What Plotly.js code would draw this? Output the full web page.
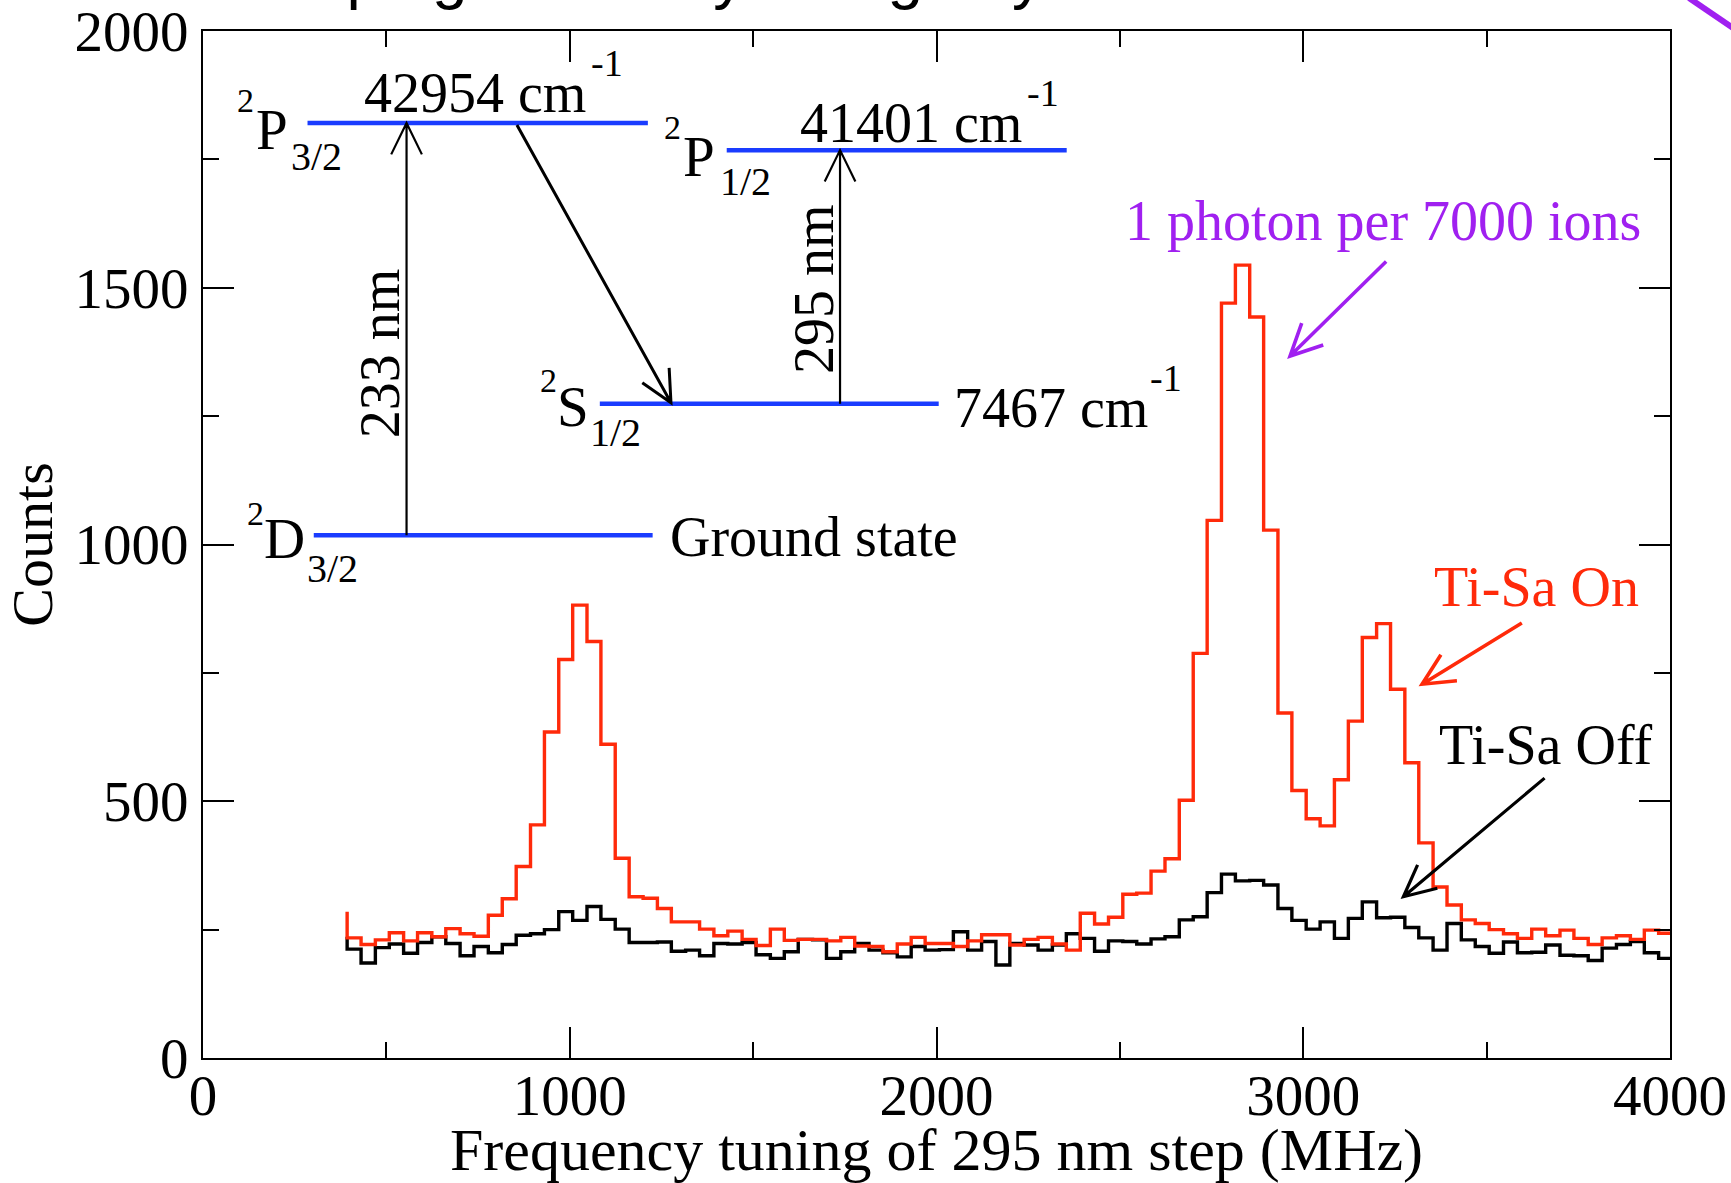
<!DOCTYPE html>
<html>
<head>
<meta charset="utf-8">
<script src="https://cdn.plot.ly/plotly-3.0.1.min.js"></script>
<style>
  html, body { margin: 0; padding: 0; background: #ffffff; }
  #chart { width: 1731px; height: 1183px; }
</style>
</head>
<body>
<div id="chart"></div>
<script>
// Step edges of the 295 nm frequency scan (MHz)
const frequency = [
  393, 431, 470, 508, 547, 585, 624, 662, 701, 739,
  778, 816, 854, 893, 931, 970, 1008, 1047, 1085, 1124,
  1162, 1200, 1239, 1277, 1316, 1354, 1393, 1431, 1470, 1508,
  1547, 1585, 1623, 1662, 1700, 1739, 1777, 1816, 1854, 1893,
  1931, 1969, 2008, 2046, 2085, 2123, 2162, 2200, 2239, 2277,
  2316, 2354, 2392, 2431, 2469, 2508, 2546, 2585, 2623, 2662,
  2700, 2738, 2777, 2815, 2854, 2892, 2931, 2969, 3008, 3046,
  3085, 3123, 3161, 3200, 3238, 3277, 3315, 3354, 3392, 3431,
  3469, 3507, 3546, 3584, 3623, 3661, 3700, 3738, 3777, 3815,
  3854, 3892, 3930, 3969, 4007
];

// Photon counts with the Ti-Sa laser on
const countsOn = [
  285, 234, 221, 230, 244, 228, 244, 236, 252, 242,
  237, 278, 310, 373, 454, 635, 776, 882, 811, 611,
  389, 314, 311, 291, 265, 265, 251, 238, 247, 231,
  219, 251, 229, 231, 231, 228, 235, 218, 217, 207,
  222, 235, 223, 223, 217, 228, 240, 240, 220, 231,
  235, 222, 210, 282, 261, 274, 319, 321, 364, 388,
  502, 788, 1047, 1470, 1544, 1443, 1028, 672, 521, 466,
  452, 542, 656, 819, 846, 718, 575, 419, 333, 298,
  269, 262, 250, 242, 233, 251, 238, 249, 233, 221,
  234, 238, 231, 249, 243
];

// Photon counts with the Ti-Sa laser off
const countsOff = [
  236, 212, 185, 215, 222, 204, 225, 236, 223, 199,
  217, 205, 221, 239, 242, 250, 285, 268, 295, 270,
  251, 225, 225, 226, 208, 210, 199, 223, 222, 225,
  201, 194, 207, 231, 230, 194, 207, 223, 210, 205,
  197, 217, 210, 211, 246, 210, 227, 181, 223, 220,
  210, 220, 242, 233, 208, 228, 227, 222, 232, 236,
  269, 275, 322, 358, 345, 346, 337, 291, 268, 251,
  265, 233, 272, 304, 273, 274, 254, 234, 210, 262,
  230, 217, 204, 226, 205, 206, 220, 200, 199, 190,
  214, 221, 227, 205, 194
];

const xTickVals = [0, 1000, 2000, 3000, 4000];
const yTickVals = [0, 500, 1000, 1500, 2000];

// ---- page geometry ----
const W = 1731, H = 1183;
const M = { l: 203, r: 61, t: 31, b: 125 };
const X_RANGE = [0, 4000], Y_RANGE = [0, 2000.01];
const plotW = W - M.l - M.r, plotH = H - M.t - M.b;
const pxPerX = plotW / (X_RANGE[1] - X_RANGE[0]);
const pxPerY = plotH / (Y_RANGE[1] - Y_RANGE[0]);

const SERIF = 'Liberation Serif, Times New Roman, serif';
const SANS = 'Liberation Sans, Arial, sans-serif';
const RED = '#ff2a0a';
const BLUE = '#1a3cff';
const PURPLE = '#a020f0';

// Straight arrow with an open (two-stroke) head, expressed in data units
function arrowPath(x0, y0, x1, y1, headLen, halfAngleDeg) {
  const dx = (x1 - x0) * pxPerX, dy = (y1 - y0) * pxPerY;
  const L = Math.hypot(dx, dy);
  const bx = -dx / L, by = -dy / L;
  const a = halfAngleDeg * Math.PI / 180;
  const c = Math.cos(a), s = Math.sin(a);
  const r1x = bx * c - by * s, r1y = bx * s + by * c;
  const r2x = bx * c + by * s, r2y = -bx * s + by * c;
  const ax = x1 + r1x * headLen / pxPerX, ay = y1 + r1y * headLen / pxPerY;
  const cx = x1 + r2x * headLen / pxPerX, cy = y1 + r2y * headLen / pxPerY;
  return `M ${x0},${y0} L ${x1},${y1} M ${ax},${ay} L ${x1},${y1} L ${cx},${cy}`;
}

function levelLine(x0, x1, y) {
  return { type: 'line', xref: 'x', yref: 'y', x0: x0, x1: x1, y0: y, y1: y,
           line: { color: BLUE, width: 4.5 } };
}

function arrowShape(x0, y0, x1, y1, color, width) {
  return { type: 'path', xref: 'x', yref: 'y',
           path: arrowPath(x0, y0, x1, y1, 35, 26),
           line: { color: color, width: width } };
}

function label(text, x, y, size, opts) {
  return Object.assign({
    text: text, x: x, y: y, xref: 'x', yref: 'y',
    xanchor: 'left', yanchor: 'middle', showarrow: false,
    font: { family: SERIF, size: size, color: '#000000' }
  }, opts || {});
}

// page pixel -> paper fraction
const paperX = px => (px - M.l) / plotW;
const paperY = py => (H - M.b - py) / plotH;

// Level scheme inset
const shapes = [
  levelLine(285, 1213, 1821),   // 2P3/2
  levelLine(1428, 2355, 1768),  // 2P1/2
  levelLine(1082, 2006, 1274),  // 2S1/2
  levelLine(302, 1226, 1018),   // 2D3/2
  arrowShape(555, 1018, 555, 1821, '#000000', 2.2),
  arrowShape(856, 1817, 1276, 1276, '#000000', 3),
  arrowShape(1737, 1274, 1737, 1768, '#000000', 2.2),
  arrowShape(3226, 1551, 2964, 1367, PURPLE, 3.6),
  arrowShape(3596, 847, 3324, 728, RED, 3.6),
  arrowShape(3658, 545, 3273, 314, '#000000', 3.2),
  { type: 'line', xref: 'paper', yref: 'paper',
    x0: paperX(1689), y0: paperY(-2), x1: paperX(1733), y1: paperY(28),
    line: { color: PURPLE, width: 6 } }
];

const annotations = [
  // heading running off the top edge of the page
  { text: 'Pumping of doubly charged yttrium', xref: 'paper', yref: 'paper',
    x: paperX(213), y: paperY(13), xanchor: 'left', yanchor: 'bottom',
    showarrow: false, font: { family: SANS, size: 64, color: '#000000' } },

  label('42954 cm', 434, 1879, 56),
  label('-1', 1052, 1938, 38),
  label('2', 88, 1865, 34),
  label('P', 139, 1809, 57),
  label('3/2', 235, 1755, 40),

  label('41401 cm', 1623, 1820, 56),
  label('-1', 2240, 1880, 38),
  label('2', 1252, 1813, 34),
  label('P', 1304, 1755, 57),
  label('1/2', 1403, 1706, 40),

  label('2', 913, 1319, 34),
  label('S', 961, 1269, 57),
  label('1/2', 1051, 1218, 40),
  label('7467 cm', 2041, 1265, 56),
  label('-1', 2578, 1325, 38),

  label('2', 115, 1061, 34),
  label('D', 160, 1011, 57),
  label('3/2', 277, 953, 40),
  label('Ground state', 1268, 1015, 56),

  label('233 nm', 485, 1372, 56, { xanchor: 'center', textangle: -90 }),
  label('295 nm', 1668, 1497, 56, { xanchor: 'center', textangle: -90 }),

  label('1 photon per 7000 ions', 2508, 1630, 56,
        { font: { family: SERIF, size: 56, color: PURPLE } }),
  label('Ti-Sa On', 3351, 917, 56,
        { font: { family: SERIF, size: 56, color: RED } }),
  label('Ti-Sa Off', 3366, 609, 56)
];

const traces = [
  { x: frequency, y: countsOff, type: 'scatter', mode: 'lines', name: 'Ti-Sa Off',
    line: { color: '#000000', width: 3.4, shape: 'vh' } },
  { x: frequency, y: countsOn, type: 'scatter', mode: 'lines', name: 'Ti-Sa On',
    line: { color: RED, width: 3.4, shape: 'vh' } }
];

const axisCommon = {
  showgrid: false, zeroline: false,
  showline: true, linecolor: '#000000', linewidth: 2, mirror: 'allticks',
  ticks: 'inside', ticklen: 31, tickwidth: 2, tickcolor: '#000000',
  tickfont: { family: SERIF, size: 57, color: '#000000' },
  ticklabeloverflow: 'allow',
  minor: { ticks: 'inside', ticklen: 16, tickwidth: 2, tickcolor: '#000000' },
  fixedrange: true, automargin: false
};

const layout = {
  width: W, height: H,
  margin: { l: M.l, r: M.r, t: M.t, b: M.b, pad: 0 },
  paper_bgcolor: '#ffffff', plot_bgcolor: '#ffffff',
  showlegend: false,
  xaxis: Object.assign({}, axisCommon, {
    range: X_RANGE, tickmode: 'array', tickvals: xTickVals,
    ticktext: xTickVals.map(String),
    minor: Object.assign({}, axisCommon.minor, { dtick: 500, tick0: 0 }),
    ticklabelstandoff: -13,
    title: { text: 'Frequency tuning of 295 nm step (MHz)', standoff: 28,
             font: { family: SERIF, size: 60, color: '#000000' } }
  }),
  yaxis: Object.assign({}, axisCommon, {
    range: Y_RANGE, tickmode: 'array', tickvals: yTickVals,
    ticktext: yTickVals.map(String),
    minor: Object.assign({}, axisCommon.minor, { dtick: 250, tick0: 0 }),
    ticklabelstandoff: 1,
    title: { text: 'Counts', standoff: 7,
             font: { family: SERIF, size: 58, color: '#000000' } }
  }),
  shapes: shapes,
  annotations: annotations
};

Plotly.newPlot('chart', traces, layout, { displayModeBar: false, staticPlot: true });
</script>
</body>
</html>
